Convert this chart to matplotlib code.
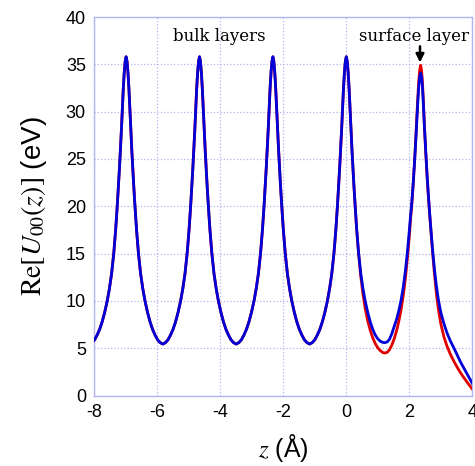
import numpy as np
import matplotlib.pyplot as plt

plt.rcParams['font.family'] = ['Liberation Sans', 'DejaVu Sans']
plt.rcParams['mathtext.fontset'] = 'stix'
plt.rcParams['axes.unicode_minus'] = False

# bulk layer positions (Angstrom)
bulk_z = [-6.99, -4.66, -2.33, 0.0]

# one bulk half-period: distance from a layer -> Re U (eV)
prof_d = [0.0, 0.03, 0.06, 0.09, 0.12, 0.15, 0.18, 0.21, 0.24, 0.28, 0.33, 0.39,
          0.46, 0.53, 0.60, 0.68, 0.76, 0.84, 0.92, 1.00, 1.08, 1.165]
prof_u = [35.8, 35.3, 34.1, 32.4, 30.2, 28.0, 26.0, 24.1, 22.3, 20.1, 17.6, 15.1,
          12.9, 11.3, 10.0, 8.8, 7.8, 7.0, 6.4, 5.9, 5.6, 5.45]

# surface side, z = 0 .. 4
surf_z = [0.0, 0.03, 0.06, 0.09, 0.12, 0.15, 0.18, 0.21, 0.24, 0.28, 0.33, 0.39,
          0.46, 0.53, 0.60, 0.68, 0.76, 0.84, 0.92, 1.00, 1.08, 1.16, 1.23, 1.30,
          1.37, 1.44, 1.52, 1.60, 1.67, 1.74, 1.81, 1.88, 1.94, 2.00, 2.04, 2.08,
          2.12, 2.16, 2.20, 2.24, 2.27, 2.30, 2.33, 2.36, 2.39, 2.42, 2.45, 2.48,
          2.52, 2.56, 2.60, 2.64, 2.69, 2.74, 2.80, 2.86, 2.92, 3.00, 3.10, 3.20,
          3.30, 3.42, 3.52, 3.62, 3.70, 3.85, 4.0]
surf_blue = [35.8, 35.3, 34.1, 32.4, 30.2, 28.0, 26.0, 24.1, 22.3, 20.1, 17.6, 15.1,
             12.9, 11.3, 10.0, 8.8, 7.8, 7.0, 6.4, 6.0, 5.75, 5.62, 5.6, 5.68,
             5.95, 6.5, 7.3, 8.1, 9.0, 10.1, 11.5, 13.3, 15.2, 17.4, 19.0, 20.4,
             22.2, 24.3, 26.6, 29.2, 31.0, 32.6, 33.7, 34.1, 33.7, 32.5, 30.6, 28.4,
             25.9, 23.6, 21.5, 19.6, 17.4, 15.4, 13.3, 11.6, 10.2, 8.8, 7.6, 6.6,
             5.8, 5.0, 4.3, 3.6, 3.1, 2.2, 1.3]
surf_red = [35.8, 35.3, 34.1, 32.4, 30.2, 28.0, 26.0, 24.1, 22.3, 20.1, 17.5, 15.0,
            12.6, 10.7, 9.2, 7.9, 6.9, 6.1, 5.5, 5.05, 4.75, 4.55, 4.5, 4.58,
            4.85, 5.3, 6.0, 6.9, 7.9, 9.1, 10.6, 12.5, 14.5, 16.8, 18.6, 20.2,
            22.2, 24.4, 26.8, 29.5, 31.5, 33.2, 34.4, 34.9, 34.4, 33.0, 30.9, 28.5,
            25.8, 23.4, 21.3, 19.4, 17.2, 15.1, 12.8, 10.8, 9.2, 7.6, 6.2, 5.2,
            4.4, 3.6, 3.0, 2.45, 2.05, 1.35, 0.7]

# build the bulk part from the layer profile
d = np.array(prof_d)
u = np.array(prof_u)
edges = [-8.3] + [(a + b) / 2 for a, b in zip(bulk_z[:-1], bulk_z[1:])]
zb, ub = [], []
for i, p in enumerate(bulk_z):
    m = d <= (p - edges[i]) + 1e-6
    zb.extend(p - d[m][::-1])
    ub.extend(u[m][::-1])
    if i < len(bulk_z) - 1:
        m = (d > 0) & (d <= (edges[i + 1] - p) + 1e-6)
        zb.extend(p + d[m])
        ub.extend(u[m])

z_blue = np.array(zb + surf_z[1:])
u_blue = np.array(ub + surf_blue[1:])
z_red = np.array(zb + surf_z[1:])
u_red = np.array(ub + surf_red[1:])

fig = plt.figure(figsize=(4.75, 4.66), dpi=100)
ax = fig.add_axes([0.1985, 0.151, 0.7958, 0.8125])

grid_col = '#b4b4f0'
ax.plot(z_red, u_red, color='#e00000', lw=2.0, zorder=3)
ax.plot(z_blue, u_blue, color='#0000d8', lw=2.0, zorder=4)

ax.set_xlim(-8, 4)
ax.set_ylim(0, 40)
ax.set_xticks(np.arange(-8, 5, 2))
ax.set_yticks(np.arange(0, 41, 5))
ax.grid(True, color=grid_col, linestyle=':', linewidth=0.9)
for s in ax.spines.values():
    s.set_color(grid_col)
    s.set_linewidth(1.0)
ax.tick_params(length=0, labelsize=13, pad=6)

ax.set_xlabel(r'$z$ (Å)', fontsize=18, labelpad=8)
ax.set_ylabel(r'$\mathrm{Re}[U_{00}(z)]$ (eV)', fontsize=20, labelpad=12)

ax.text(-4.03, 37.9, 'bulk layers', family='DejaVu Serif', fontsize=12,
        ha='center', va='center')
ax.text(2.15, 37.9, 'surface layer', family='DejaVu Serif', fontsize=12,
        ha='center', va='center')
ax.annotate('', xy=(2.34, 35.2), xytext=(2.34, 36.9),
            arrowprops=dict(arrowstyle='-|>', color='black', lw=1.8,
                            mutation_scale=12, shrinkA=0, shrinkB=0))

fig.savefig('out.png', dpi=100)
